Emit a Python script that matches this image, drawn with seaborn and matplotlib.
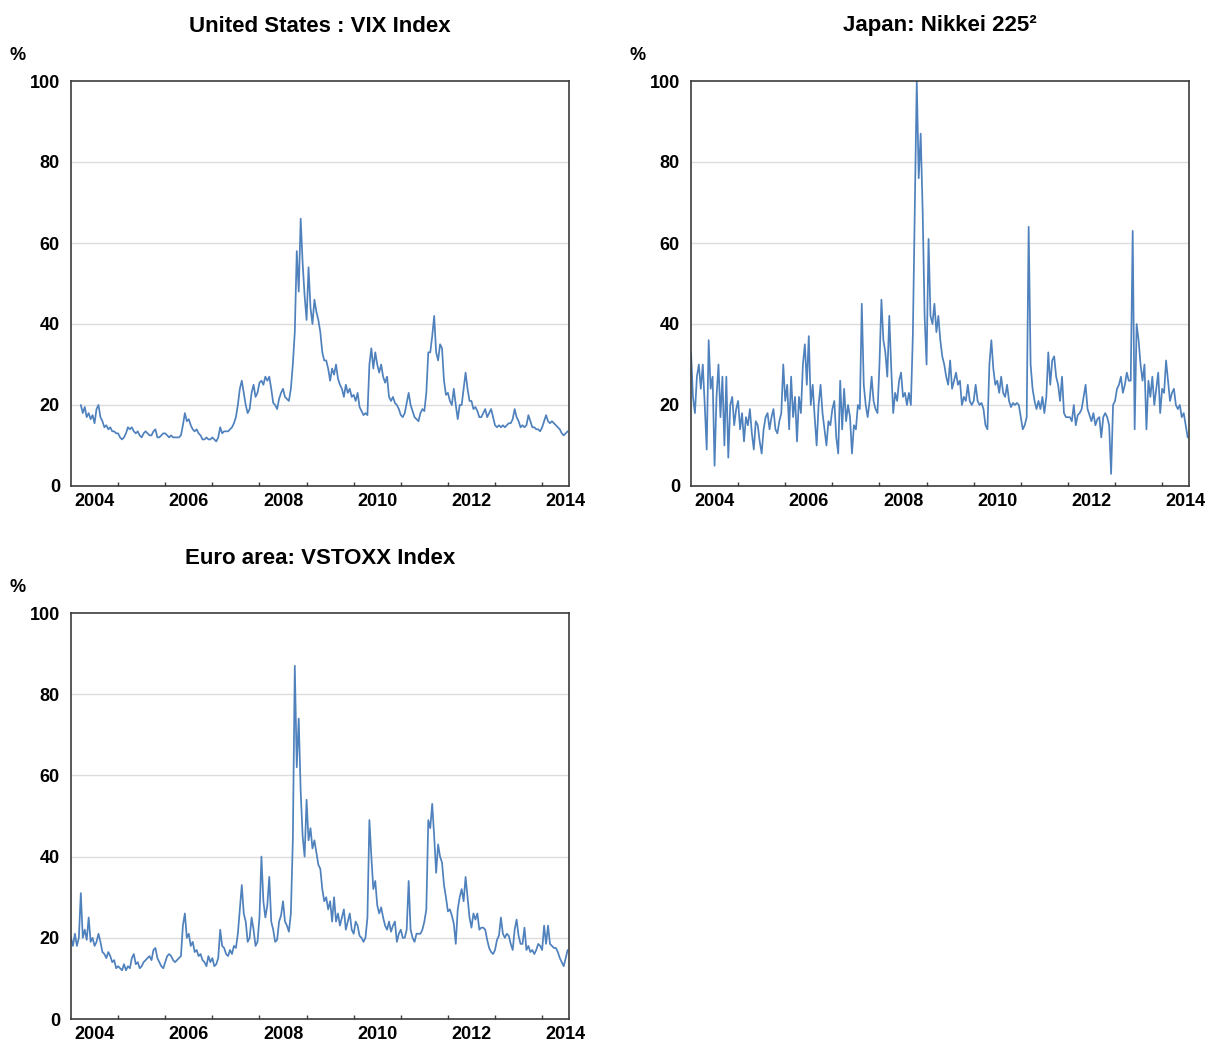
import numpy as np
import pandas as pd
import matplotlib
matplotlib.use("Agg")
import matplotlib.pyplot as plt
import seaborn as sns

# ---------------- data (semi-monthly readings, % ) ----------------
# United States: VIX index, starting second half of March 2004
vix_start = 2004 + 5 / 24
vix = [
    # 2004
    20, 18, 19.5, 17, 18, 16.5, 17.5, 15.5, 19, 20, 17, 16, 14.5, 15, 14, 14.5, 13.5, 13.5, 13,
    # 2005
    13, 12, 11.5, 12, 13, 14.5, 14, 14.5, 13.5, 13, 13.5, 12.5, 12, 13, 13.5, 13, 12.5, 12.5, 13.5, 14, 12, 12, 12.5, 13,
    # 2006
    13, 12.5, 12, 12.5, 12, 12, 12, 12, 12.5, 15, 18, 16, 16.5, 15, 14, 13.5, 14, 13, 12.5, 11.5, 11.5, 12, 11.5, 11.5,
    # 2007
    12, 11.5, 11, 12, 14.5, 13, 13.5, 13.5, 13.5, 14, 14.5, 15.5, 17, 20, 24, 26, 23, 20, 18, 19, 23, 25, 22, 23,
    # 2008
    25.5, 26, 25, 27, 26, 27, 24, 20.5, 20, 19, 21.5, 23, 24, 22, 21.5, 21, 24, 30, 38, 58, 48, 66, 55, 47,
    # 2009
    41, 54, 44, 40, 46, 43, 41, 38, 33, 31, 31, 29, 26, 29, 27.5, 30, 26.5, 25, 24, 22, 25, 23, 24, 22,
    # 2010
    22.5, 21, 23, 19.5, 18.5, 17.5, 18, 17.5, 30, 34, 29, 33, 30, 28, 30, 27, 25.5, 27, 22, 21, 22, 20.5, 20, 19,
    # 2011
    17.5, 17, 18, 20.5, 23, 20, 18.5, 17, 16.5, 16, 18, 19, 18.5, 23, 33, 33, 37, 42, 33, 31, 35, 34, 26, 22.5,
    # 2012
    23, 21, 20, 24, 20, 16.5, 20, 20, 24, 28, 24, 21, 21, 19, 19.5, 18.5, 17, 17, 18, 19, 17, 18, 19, 17,
    # 2013
    15, 14.5, 15, 14.5, 15, 14.5, 15, 15.5, 15.5, 16.5, 19, 17, 16, 14.5, 15, 14.5, 15, 17.5, 16, 14.5, 14.5, 14, 14, 13.5,
    # 2014
    14.5, 16, 17.5, 16, 15.5, 16, 15.5, 15, 14.5, 14, 13, 12.5, 13, 13.5,
]

# Japan: Nikkei 225 volatility, from January 2004
nikkei_start = 2004.0
nikkei = [
    # 2004
    33, 22, 18, 27, 30, 24, 30, 20, 9, 36, 24, 27, 5, 22, 30, 17, 27, 10, 27, 7, 20, 22, 15, 19,
    # 2005
    21, 14, 18, 11, 17, 15, 19, 13, 9, 16, 15, 11, 8, 14, 17, 18, 14, 17, 19, 14, 13, 16, 18, 30,
    # 2006
    21, 25, 14, 27, 17, 22, 11, 22, 18, 30, 35, 25, 37, 20, 25, 17, 10, 20, 25, 18, 14, 10, 16, 15,
    # 2007
    19, 21, 12, 8, 26, 14, 24, 16, 20, 17, 8, 15, 14, 20, 19, 45, 25, 20, 17, 21, 27, 21, 19, 18,
    # 2008
    30, 46, 36, 33, 27, 42, 29, 18, 23, 21, 26, 28, 22, 23, 20, 23, 20, 37, 68, 100, 76, 87, 68, 42,
    # 2009
    30, 61, 42, 40, 45, 38, 42, 36, 32, 30, 27, 25, 31, 24, 26, 28, 25, 26, 20, 22, 21, 25, 21, 20,
    # 2010
    21, 25, 21, 20, 20.5, 19, 15, 14, 30, 36, 29, 25, 26, 23, 27, 23, 22, 25, 21, 19.5, 20.5, 20, 20.5, 20,
    # 2011
    17, 14, 15, 17, 64, 30, 24, 21, 19, 21, 19, 22, 18, 22, 33, 25, 31, 32, 27, 25, 21, 27, 18, 17,
    # 2012
    17, 17, 16, 20, 15, 17.5, 18, 19, 22, 25, 19, 17.5, 16, 18, 15, 16.5, 17, 12, 17, 18, 17, 15, 3, 20,
    # 2013
    21, 24, 25, 27, 23, 25, 28, 26, 26, 63, 14, 40, 36, 30, 26, 30, 14, 26, 22, 27, 20, 24, 28, 18,
    # 2014
    24, 23, 31, 26, 21, 23, 24, 20, 19, 20, 17, 18, 15, 12,
]

# Euro area: VSTOXX index, from January 2004
vstoxx_start = 2004.0
vstoxx = [
    # 2004
    20, 18, 21, 18, 20, 31, 20, 22, 19.5, 25, 19, 20, 18, 19, 21, 19, 16.5, 16, 15, 16.5, 15.5, 14, 14.5, 12.5,
    # 2005
    13, 12.5, 12, 13.5, 12, 13, 12.5, 15, 16, 13.5, 14, 12.5, 13, 14, 14.5, 15, 15.5, 14.5, 17, 17.5, 15, 14, 13, 12.5,
    # 2006
    14, 15.5, 16, 15.5, 14.5, 14, 14.5, 15, 15.5, 23, 26, 20, 21, 18, 19, 16.5, 17, 15.5, 16, 14.5, 14, 13, 15.5, 14,
    # 2007
    15, 13, 13.5, 15, 22, 18, 17.5, 16, 15.5, 17, 16, 18, 17.5, 21, 27, 33, 26, 24, 19, 20, 25, 22, 18, 19,
    # 2008
    25, 40, 29, 25, 28, 35, 24, 22, 19, 19.5, 24, 25.5, 29, 24, 23, 21.5, 26, 44, 87, 62, 74, 56, 45, 40,
    # 2009
    54, 44, 47, 42, 44, 41, 38, 37, 32, 29, 30, 27, 29, 24, 30, 24, 26, 23, 25, 27, 22, 24, 26, 22,
    # 2010
    21, 24, 23, 20.5, 20, 19, 20, 25, 49, 40, 32, 34, 28, 26, 27.5, 25, 23, 22, 24, 21.5, 23, 24, 19, 21,
    # 2011
    22, 20, 20, 22, 34, 22, 20, 19, 21, 21, 21, 22, 24, 27, 49, 47, 53, 45, 36, 43, 40, 38.5, 33, 30,
    # 2012
    26.5, 27, 25.5, 23.5, 18.5, 27, 30, 32, 29, 35, 30, 25, 22.5, 26, 24.5, 26, 22, 22.5, 22.5, 22, 19.5, 17.5, 16.5, 16,
    # 2013
    17, 19.5, 20.5, 25, 21, 20, 21, 20.5, 18.5, 17, 22, 24.5, 20.5, 18.5, 18.5, 22.5, 17, 18, 16.5, 17, 16, 17, 18.5, 18,
    # 2014
    17, 23, 18.5, 23, 18.5, 18, 17.5, 17.5, 16.5, 15, 14, 13, 15, 17,
]

titles = ["United States : VIX Index", "Japan: Nikkei 225\u00b2", "Euro area: VSTOXX Index"]
year_labels = ["2004", "2006", "2008", "2010", "2012", "2014"]
y_ticks = [0, 20, 40, 60, 80, 100]
unit_label = "%"


def frame(values, start):
    t = start + np.arange(len(values)) / 24.0
    return pd.DataFrame({"year": t, "value": values})


# ---------------- styling ----------------
sns.set_theme(style="white")
plt.rcParams["font.family"] = ["Liberation Sans", "DejaVu Sans"]
plt.rcParams["text.color"] = "black"

LINE = "#4F81BD"
SPINE = "#3c3c3c"
GRID = "#dcdcdc"

fig = plt.figure(figsize=(12.09, 10.43), dpi=100)
W, H = 1209.0, 1043.0
boxes = [(71, 81, 498, 405), (691, 81, 498, 405), (71, 613, 498, 406)]
series = [frame(vix, vix_start), frame(nikkei, nikkei_start), frame(vstoxx, vstoxx_start)]

for (px, py, pw, ph), df, title in zip(boxes, series, titles):
    ax = fig.add_axes([px / W, 1 - (py + ph) / H, pw / W, ph / H])
    sns.lineplot(data=df, x="year", y="value", ax=ax, color=LINE, linewidth=1.25)
    ax.set_xlim(2004.0, 2014.57)
    ax.set_ylim(0, 100)
    ax.set_xlabel("")
    ax.set_ylabel("")

    ax.set_yticks(y_ticks)
    ax.set_yticklabels([str(v) for v in y_ticks], fontweight="bold")
    ax.tick_params(axis="y", length=0, pad=8, labelsize=13, colors="black")
    for v in y_ticks[1:-1]:
        ax.axhline(v, color=GRID, linewidth=1.0, zorder=0)

    ax.set_xticks([int(l) + 0.5 for l in year_labels])
    ax.set_xticklabels(year_labels, fontweight="bold")
    ax.set_xticks(np.arange(2005, 2015), minor=True)
    ax.tick_params(axis="x", which="major", length=0, pad=5, labelsize=13, colors="black")
    ax.tick_params(axis="x", which="minor", direction="in", length=3, width=1, color=SPINE, bottom=True)

    for s in ax.spines.values():
        s.set_visible(True)
        s.set_color(SPINE)
        s.set_linewidth(1.2)
    ax.grid(False)

    ax.text(0.5, 1 + 55.0 / ph, title, transform=ax.transAxes, ha="center", va="center",
            fontsize=16, fontweight="bold", color="black")
    ax.text(-53.0 / pw, 1 + 26.0 / ph, unit_label, transform=ax.transAxes, ha="center",
            va="center", fontsize=13, fontweight="bold", color="black")

fig.savefig("out.png", dpi=100)
